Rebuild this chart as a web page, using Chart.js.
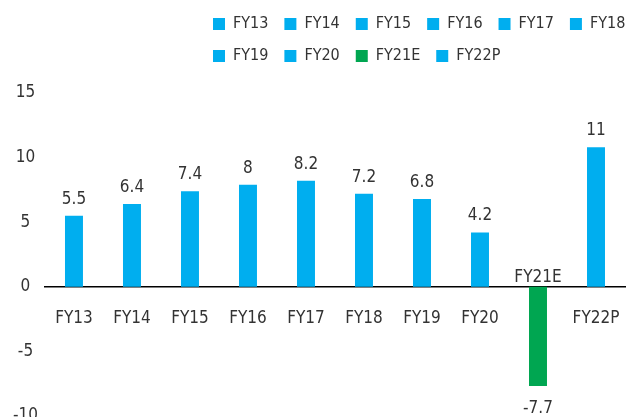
<!DOCTYPE html>
<html>
<head>
<meta charset="utf-8">
<script src="https://cdn.jsdelivr.net/npm/chart.js@4/dist/chart.umd.min.js"></script>
<style>
html,body{margin:0;padding:0;background:#fff;overflow:hidden;}
#wrap{width:635px;height:433px;position:relative;}
</style>
</head>
<body>
<div id="wrap"><canvas id="c"></canvas></div>
<script>
const categories = ['FY13','FY14','FY15','FY16','FY17','FY18','FY19','FY20','FY21E','FY22P'];
const values = [5.5, 6.4, 7.4, 7.9, 8.2, 7.2, 6.8, 4.2, -7.7, 10.8];
const valueText = ['5.5','6.4','7.4','8','8.2','7.2','6.8','4.2','-7.7','11'];
const barColors = ['#00AEEF','#00AEEF','#00AEEF','#00AEEF','#00AEEF','#00AEEF','#00AEEF','#00AEEF','#00A651','#00AEEF'];
const yTicks = [-10, -5, 0, 5, 10, 15];

const FONT = "'Liberation Sans Narrow', 'DejaVu Sans Condensed', 'Roboto', sans-serif";
const TEXT = '#333333';
const LEGEND_LEFT = 197;
const LEGEND_WRAP = 470;
const LEGEND_EXTRA = 19;

const legendShift = {
  id: 'legendShift',
  beforeLayout(chart) {
    const lg = chart.legend;
    if (lg && !lg._patched) {
      const orig = lg.update;
      lg.update = function (mw, mh, m) {
        const r = orig.call(this, LEGEND_WRAP, mh, m);
        this.height += LEGEND_EXTRA;
        return r;
      };
      lg._patched = true;
    }
  },
  afterLayout(chart) {
    const lg = chart.legend;
    if (lg) {
      lg.left = LEGEND_LEFT;
      lg.right = LEGEND_LEFT + LEGEND_WRAP;
      lg.width = LEGEND_WRAP;
    }
  }
};

const valueLabels = {
  id: 'valueLabels',
  afterDatasetsDraw(chart) {
    const ctx = chart.ctx;
    const meta = chart.getDatasetMeta(0);
    const y0 = chart.scales.y.getPixelForValue(0);
    ctx.save();
    ctx.font = '17px ' + FONT;
    ctx.fillStyle = TEXT;
    ctx.textAlign = 'center';
    ctx.textBaseline = 'alphabetic';
    meta.data.forEach((bar, i) => {
      const v = values[i];
      if (v >= 0) {
        ctx.fillText(valueText[i], bar.x, bar.y - 12);
      } else {
        ctx.fillText(valueText[i], bar.x, bar.y + 27);
        ctx.fillText(categories[i], bar.x, y0 - 5);
      }
    });
    ctx.restore();
  }
};

new Chart(document.getElementById('c'), {
  type: 'bar',
  data: {
    labels: categories,
    datasets: [{
      data: values,
      backgroundColor: barColors,
      borderWidth: 0,
      barPercentage: 0.31,
      categoryPercentage: 1
    }]
  },
  options: {
    responsive: true,
    maintainAspectRatio: false,
    animation: false,
    layout: { padding: { left: 6, right: 10, top: 0, bottom: 0 } },
    plugins: {
      tooltip: { enabled: false },
      legend: {
        position: 'top',
        align: 'start',
        labels: {
          font: { family: FONT, size: 16 },
          color: TEXT,
          boxWidth: 12,
          boxHeight: 12,
          padding: 16,
          generateLabels(chart) {
            return categories.map((c, i) => ({
              text: c,
              fillStyle: barColors[i],
              strokeStyle: barColors[i],
              lineWidth: 0,
              fontColor: TEXT,
              hidden: false,
              index: i,
              datasetIndex: 0
            }));
          }
        },
        onClick() {}
      }
    },
    scales: {
      x: {
        position: { y: 0 },
        grid: { display: false, drawTicks: false },
        border: { display: true, color: '#000000', width: 1.5 },
        ticks: {
          font: { family: FONT, size: 17, lineHeight: '64px' },
          color: (ctx) => values[ctx.index] < 0 ? 'rgba(0,0,0,0)' : TEXT,
          padding: 0,
          maxRotation: 0,
          autoSkip: false
        }
      },
      y: {
        min: -10,
        max: 15,
        afterBuildTicks(scale) { scale.ticks = yTicks.map(v => ({ value: v })); },
        grid: { display: false, drawTicks: false },
        border: { display: false },
        ticks: {
          font: { family: FONT, size: 17 },
          color: TEXT,
          padding: 7,
          crossAlign: 'center'
        }
      }
    }
  },
  plugins: [legendShift, valueLabels]
});
</script>
</body>
</html>
